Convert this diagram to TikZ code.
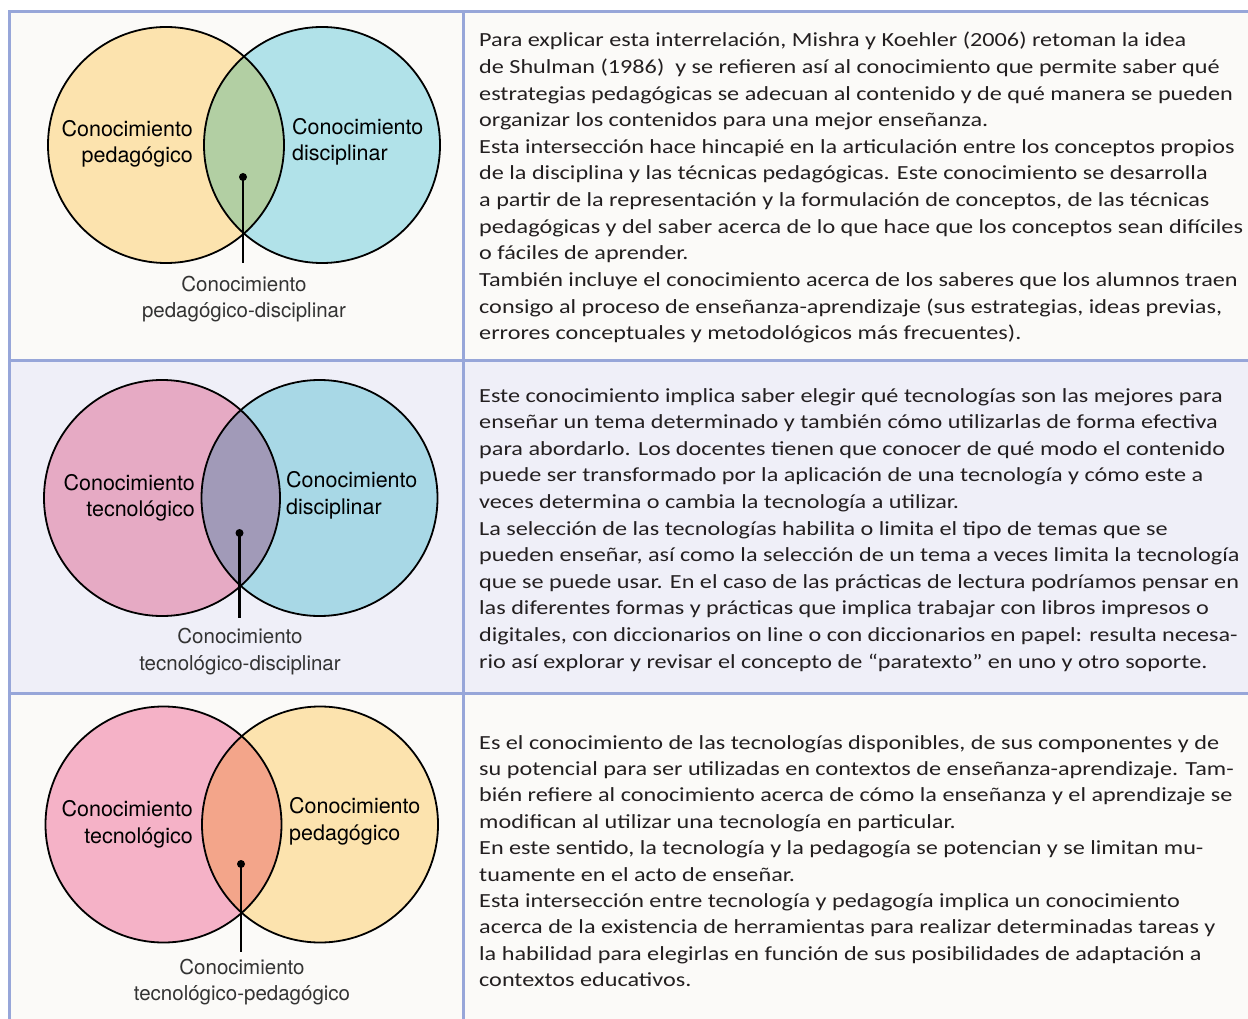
\documentclass[tikz,border=0pt]{standalone}
\usepackage{fontspec}
\setmainfont{TeX Gyre Heros}
\newfontfamily\bodyfont[FakeStretch=1.21]{Carlito}
\definecolor{cellbg}{HTML}{FBFAF8}
\definecolor{rowbg}{HTML}{EFEFF8}
\definecolor{rule}{HTML}{97A6D9}
\definecolor{cyellow}{HTML}{FCE3AE}
\definecolor{ccyan}{HTML}{B1E2E9}
\definecolor{cgreen}{HTML}{B2CFA3}
\definecolor{cpinkA}{HTML}{E6AAC4}
\definecolor{cblueB}{HTML}{A8D8E6}
\definecolor{cpurple}{HTML}{A19AB8}
\definecolor{cpinkC}{HTML}{F5B2C7}
\definecolor{cpeach}{HTML}{F3A58A}
\definecolor{bodytext}{HTML}{231F20}
\definecolor{labgray}{HTML}{333333}
\tikzset{
  lbl/.style={inner sep=0pt, font=\fontsize{21.5}{26}\selectfont, text=black},
  sublbl/.style={inner sep=0pt, font=\fontsize{20.5}{26}\selectfont, text=labgray},
  bodyline/.style={inner sep=0pt, anchor=base west, font=\bodyfont\fontsize{20}{26}\selectfont, text=bodytext},
  ring/.style={draw=black, line width=1.8pt},
  stem/.style={draw=black, line width=2.2pt},
  gridline/.style={draw=rule, line width=3pt}
}
\begin{document}
\begin{tikzpicture}[x=1pt,y=-1pt]
\useasboundingbox (0,0) rectangle (1248,1019);
\fill[white] (0,0) rectangle (1248,1019);
\fill[cellbg] (9,12) rectangle (1248,360);
\fill[rowbg] (9,360) rectangle (1248,693);
\fill[cellbg] (9,693) rectangle (1248,1019);
% grid
\draw[gridline] (9,12) -- (1248,12);
\draw[gridline] (9,360) -- (1248,360);
\draw[gridline] (9,693) -- (1248,693);
\draw[gridline] (9,10.5) -- (9,1019);
\draw[gridline] (463,12) -- (463,1019);

% ---------- Row 1 ----------
\coordinate (a1) at (166,145);
\coordinate (b1) at (322,145);
\fill[cyellow] (a1) circle[radius=118];
\fill[ccyan] (b1) circle[radius=118];
\begin{scope}
  \clip (a1) circle[radius=118];
  \fill[cgreen] (b1) circle[radius=118];
\end{scope}
\draw[ring] (a1) circle[radius=118];
\draw[ring] (b1) circle[radius=118];
\coordinate (d1) at (243,177);
\coordinate (e1) at (243,263);
\draw[stem] (d1) -- (e1);
\fill (d1) circle[radius=4];
\node[lbl, anchor=base east] (l1a) at (193,137) {Conocimiento};
\node[lbl, anchor=base east] (l1b) at (193,163) {pedagógico};
\node[lbl, anchor=base west] (r1a) at (292,135) {Conocimiento};
\node[lbl, anchor=base west] (r1b) at (292,161) {disciplinar};
\node[sublbl, anchor=base] (s1a) at (244,291) {Conocimiento};
\node[sublbl, anchor=base] (s1b) at (244,317) {pedagógico-disciplinar};

% ---------- Row 2 ----------
\coordinate (a2) at (162,498);
\coordinate (b2) at (319.5,498);
\fill[cpinkA] (a2) circle[radius=118];
\fill[cblueB] (b2) circle[radius=118];
\begin{scope}
  \clip (a2) circle[radius=118];
  \fill[cpurple] (b2) circle[radius=118];
\end{scope}
\draw[ring] (a2) circle[radius=118];
\draw[ring] (b2) circle[radius=118];
\coordinate (d2) at (239.5,533);
\coordinate (e2) at (239.5,618);
\draw[stem] (d2) -- (e2);
\fill (d2) circle[radius=4];
\node[lbl, anchor=base east] (l2a) at (195,490) {Conocimiento};
\node[lbl, anchor=base east] (l2b) at (195,516) {tecnológico};
\node[lbl, anchor=base west] (r2a) at (286,487) {Conocimiento};
\node[lbl, anchor=base west] (r2b) at (286,514) {disciplinar};
\node[sublbl, anchor=base] (s2a) at (240,643) {Conocimiento};
\node[sublbl, anchor=base] (s2b) at (240,670) {tecnológico-disciplinar};

% ---------- Row 3 ----------
\coordinate (a3) at (163.5,824.5);
\coordinate (b3) at (320,824.5);
\fill[cpinkC] (a3) circle[radius=118];
\fill[cyellow] (b3) circle[radius=118];
\begin{scope}
  \clip (a3) circle[radius=118];
  \fill[cpeach] (b3) circle[radius=118];
\end{scope}
\draw[ring] (a3) circle[radius=118];
\draw[ring] (b3) circle[radius=118];
\coordinate (d3) at (241,864);
\coordinate (e3) at (241,952);
\draw[stem] (d3) -- (e3);
\fill (d3) circle[radius=4];
\node[lbl, anchor=base east] (l3a) at (193,816) {Conocimiento};
\node[lbl, anchor=base east] (l3b) at (193,843) {tecnológico};
\node[lbl, anchor=base west] (r3a) at (289,813) {Conocimiento};
\node[lbl, anchor=base west] (r3b) at (289,840) {pedagógico};
\node[sublbl, anchor=base] (s3a) at (242,974) {Conocimiento};
\node[sublbl, anchor=base] (s3b) at (242,1000) {tecnológico-pedagógico};

% ---------- Texts ----------
\foreach \t [count=\i from 0] in {
 {Para explicar esta interrelación, Mishra y Koehler (2006) retoman la idea},
 {de Shulman (1986) \ y se refieren así al conocimiento que permite saber qué},
 {estrategias pedagógicas se adecuan al contenido y de qué manera se pueden},
 {organizar los contenidos para una mejor enseñanza.},
 {Esta intersección hace hincapié en la articulación entre los conceptos propios},
 {de la disciplina y las técnicas pedagógicas. Este conocimiento se desarrolla},
 {a partir de la representación y la formulación de conceptos, de las técnicas},
 {pedagógicas y del saber acerca de lo que hace que los conceptos sean difíciles},
 {o fáciles de aprender.},
 {También incluye el conocimiento acerca de los saberes que los alumnos traen},
 {consigo al proceso de enseñanza-aprendizaje (sus estrategias, ideas previas,},
 {errores conceptuales y metodológicos más frecuentes).}}
 \node[bodyline] (ta\i) at (479,47+26.6*\i) {\t};

\foreach \t [count=\i from 0] in {
 {Este conocimiento implica saber elegir qué tecnologías son las mejores para},
 {enseñar un tema determinado y también cómo utilizarlas de forma efectiva},
 {para abordarlo. Los docentes tienen que conocer de qué modo el contenido},
 {puede ser transformado por la aplicación de una tecnología y cómo este a},
 {veces determina o cambia la tecnología a utilizar.},
 {La selección de las tecnologías habilita o limita el tipo de temas que se},
 {pueden enseñar, así como la selección de un tema a veces limita la tecnología},
 {que se puede usar. En el caso de las prácticas de lectura podríamos pensar en},
 {las diferentes formas y prácticas que implica trabajar con libros impresos o},
 {digitales, con diccionarios on line o con diccionarios en papel: resulta necesa-},
 {rio así explorar y revisar el concepto de “paratexto” en uno y otro soporte.}}
 \node[bodyline] (tb\i) at (479,402+26.6*\i) {\t};

\foreach \t [count=\i from 0] in {
 {Es el conocimiento de las tecnologías disponibles, de sus componentes y de},
 {su potencial para ser utilizadas en contextos de enseñanza-aprendizaje. Tam-},
 {bién refiere al conocimiento acerca de cómo la enseñanza y el aprendizaje se},
 {modifican al utilizar una tecnología en particular.},
 {En este sentido, la tecnología y la pedagogía se potencian y se limitan mu-},
 {tuamente en el acto de enseñar.},
 {Esta intersección entre tecnología y pedagogía implica un conocimiento},
 {acerca de la existencia de herramientas para realizar determinadas tareas y},
 {la habilidad para elegirlas en función de sus posibilidades de adaptación a},
 {contextos educativos.}}
 \node[bodyline] (tc\i) at (479,749+26.4*\i) {\t};
\end{tikzpicture}
\end{document}
